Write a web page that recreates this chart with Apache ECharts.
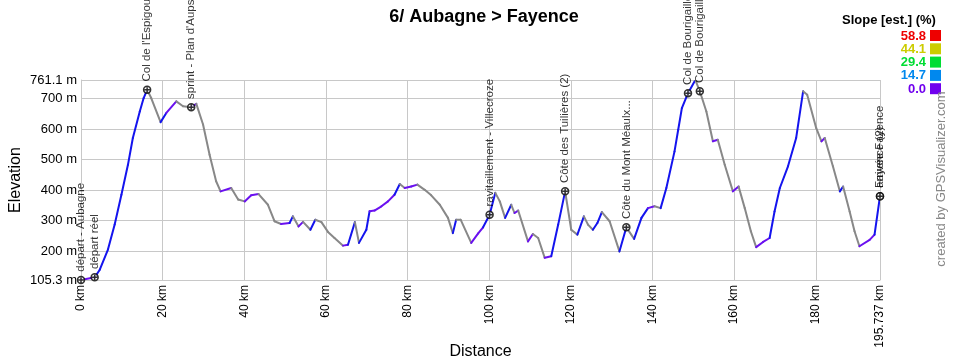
<!DOCTYPE html>
<html><head><meta charset="utf-8">
<script src="https://cdn.jsdelivr.net/npm/echarts@6/dist/echarts.min.js"></script>
<style>html,body{margin:0;padding:0;background:#fff}#c{width:960px;height:360px}</style>
</head><body><div id="c"></div>
<script>
const distanceKm = [0, 3.35, 4.6, 6.6, 8.25, 9.9, 11.5, 12.7, 14.4, 15.35, 16.2, 17.2, 19.5, 20.9, 23.35, 25.0, 27.0, 28.25, 29.9, 31.5, 33.1, 34.2, 36.8, 38.5, 40.1, 41.7, 43.5, 45.8, 47.4, 49.0, 51.1, 51.9, 53.3, 54.4, 56.2, 57.4, 58.9, 60.5, 62.1, 64.2, 65.4, 67.1, 68.1, 69.9, 70.7, 71.9, 73.6, 75.2, 76.8, 78.1, 79.3, 80.9, 82.4, 84.2, 85.8, 87.9, 89.9, 91.1, 91.9, 93.0, 95.6, 97.3, 98.5, 100.1, 101.5, 102.6, 103.9, 105.4, 106.2, 107.1, 109.5, 110.7, 112.0, 113.6, 115.2, 116.9, 118.6, 120.1, 121.6, 123.2, 124.2, 125.4, 126.5, 127.6, 129.5, 131.9, 133.6, 135.5, 137.3, 138.9, 140.5, 142.0, 143.4, 145.4, 146.3, 147.2, 148.7, 150.5, 151.6, 153.2, 154.8, 156.0, 157.7, 159.7, 161.1, 162.6, 164.1, 165.4, 167.1, 168.7, 169.9, 171.2, 173.2, 175.2, 176.9, 177.9, 180.1, 181.4, 182.2, 184.2, 185.9, 186.7, 188.3, 189.5, 190.7, 193.2, 194.4, 195.737];
const elevationM = [105.3, 114, 139, 205, 287, 385, 483, 571, 658, 702, 729, 702, 623, 653, 691, 675, 672, 683, 615, 516, 429, 396, 407, 369, 363, 383, 387, 352, 298, 289, 292, 314, 281, 296, 270, 303, 295, 263, 243, 218, 221, 295, 227, 270, 331, 333, 347, 363, 385, 420, 407, 412, 418, 401, 383, 352, 309, 259, 303, 303, 227, 258, 278, 319, 391, 363, 309, 352, 325, 333, 232, 256, 243, 178, 183, 287, 396, 270, 254, 314, 287, 270, 292, 328, 298, 199, 278, 240, 309, 341, 347, 341, 407, 527, 598, 669, 718, 761.1, 724, 658, 560, 565, 483, 396, 412, 341, 265, 213, 230, 243, 330, 407, 478, 571, 724, 713, 604, 560, 571, 478, 396, 412, 330, 265, 216, 237, 254, 380];

const waypointKm = [0, 3.35, 16.2, 27.0, 100.1, 118.6, 133.6, 148.7, 151.6, 195.737, 195.737];
const waypointElev = [105.3, 114, 729, 672, 319, 396, 278, 718, 724, 380, 380];
const waypointName = ["départ - Aubagne", "départ réel", "Col de l'Espigoulier", "sprint - Plan d'Aups", "ravitaillement - Villecroze", "Côte des Tuilières (2)", "Côte du Mont Méaulx...", "Col de Bourigaille", "Col de Bourigaille", "arrivée Fayence", "Fayence (2)"];

const xTicks = [0, 20, 40, 60, 80, 100, 120, 140, 160, 180, 195.737];
const yTicks = [105.3, 200, 300, 400, 500, 600, 700, 761.1];

const slopeLegendValues = ["58.8", "44.1", "29.4", "14.7", "0.0"];
const slopeLegendColors = ["#ee0000", "#cccc00", "#00dd33", "#0088ee", "#7000ee"];

function slopeColor(s) {
  if (s <= 0) return '#888888';
  if (s < 2) return '#6a10f0';
  if (s < 10) return '#1414ee';
  return '#0a8cee';
}

const chart = echarts.init(document.getElementById('c'), null, {renderer: 'canvas'});
const FONT = 'Liberation Sans, Arial, sans-serif';

const graphics = [];
graphics.push({type: 'text', left: 842, top: 14, style: {text: 'Slope [est.] (%)', font: 'bold 13px ' + FONT, fill: '#000'}});
slopeLegendValues.forEach((v, i) => {
  const y = 30 + i * 13.3;
  graphics.push({type: 'text', x: 926, y: y + 6, style: {text: v, font: 'bold 13px ' + FONT, fill: slopeLegendColors[i], align: 'right', verticalAlign: 'middle'}});
  graphics.push({type: 'rect', shape: {x: 930, y: y, width: 11, height: 11}, style: {fill: slopeLegendColors[i]}});
});
graphics.push({type: 'text', x: 941, y: 179, rotation: Math.PI / 2, style: {text: 'created by GPSVisualizer.com', font: '13px ' + FONT, fill: '#888', align: 'center', verticalAlign: 'middle'}});

chart.setOption({
  animation: false,
  backgroundColor: '#fff',
  title: {text: '6/ Aubagne > Fayence', left: 479, top: 3, textAlign: 'center', textStyle: {fontFamily: FONT, fontSize: 18, fontWeight: 'bold', color: '#000'}},
  grid: {left: 81, right: 80, top: 80, bottom: 80, containLabel: false, outerBoundsMode: 'none'},
  xAxis: {
    type: 'value', min: 0, max: 195.737,
    name: 'Distance', nameLocation: 'middle', nameGap: 64, nameMoveOverlap: false,
    nameTextStyle: {fontFamily: FONT, fontSize: 16, color: '#000'},
    axisLine: {show: true, lineStyle: {color: '#c8c8c8'}},
    axisTick: {show: false, customValues: xTicks},
    axisLabel: {customValues: xTicks, rotate: 90, fontFamily: FONT, fontSize: 12, color: '#000', margin: 5, formatter: v => v + ' km'},
    splitLine: {show: true, lineStyle: {color: '#c8c8c8', width: 1}}
  },
  yAxis: {
    type: 'value', min: 105.3, max: 761.1,
    name: 'Elevation', nameLocation: 'middle', nameGap: 57, nameMoveOverlap: false,
    nameTextStyle: {fontFamily: FONT, fontSize: 16, color: '#000'},
    axisLine: {show: true, lineStyle: {color: '#c8c8c8'}},
    axisTick: {show: false, customValues: yTicks},
    axisLabel: {customValues: yTicks, fontFamily: FONT, fontSize: 13, color: '#000', margin: 4, formatter: v => v + ' m'},
    splitLine: {show: true, lineStyle: {color: '#c8c8c8', width: 1}}
  },
  graphic: graphics,
  series: [
    {
      type: 'custom', coordinateSystem: 'cartesian2d', clip: true,
      data: distanceKm.map((d, i) => [d, elevationM[i]]),
      encode: {x: 0, y: 1},
      renderItem: function (params, api) {
        const i = params.dataIndex;
        if (i === 0) return null;
        const p0 = api.coord([distanceKm[i - 1], elevationM[i - 1]]);
        const p1 = api.coord([distanceKm[i], elevationM[i]]);
        const s = (elevationM[i] - elevationM[i - 1]) / ((distanceKm[i] - distanceKm[i - 1]) * 10);
        return {type: 'line', shape: {x1: p0[0], y1: p0[1], x2: p1[0], y2: p1[1]}, style: {stroke: slopeColor(s), lineWidth: 2, lineCap: 'round'}};
      },
      z: 2
    },
    {
      type: 'scatter', z: 5,
      data: waypointKm.map((d, i) => ({value: [d, waypointElev[i]], name: waypointName[i], label: i === 0 ? {offset: [4, 0]} : undefined})),
      symbol: 'path://M10,2A8,8 0 1,1 9.99,2Z M10,4L10,16 M4,10L16,10', symbolSize: 7,
      itemStyle: {color: '#ffffff', borderColor: '#000', borderWidth: 1.5},
      label: {show: true, position: 'top', distance: 4, rotate: 90, align: 'left', verticalAlign: 'middle', formatter: '{b}', fontFamily: FONT, fontSize: 11.5, color: '#000'},
      labelLayout: {hideOverlap: false}
    }
  ]
});
</script>
</body></html>
